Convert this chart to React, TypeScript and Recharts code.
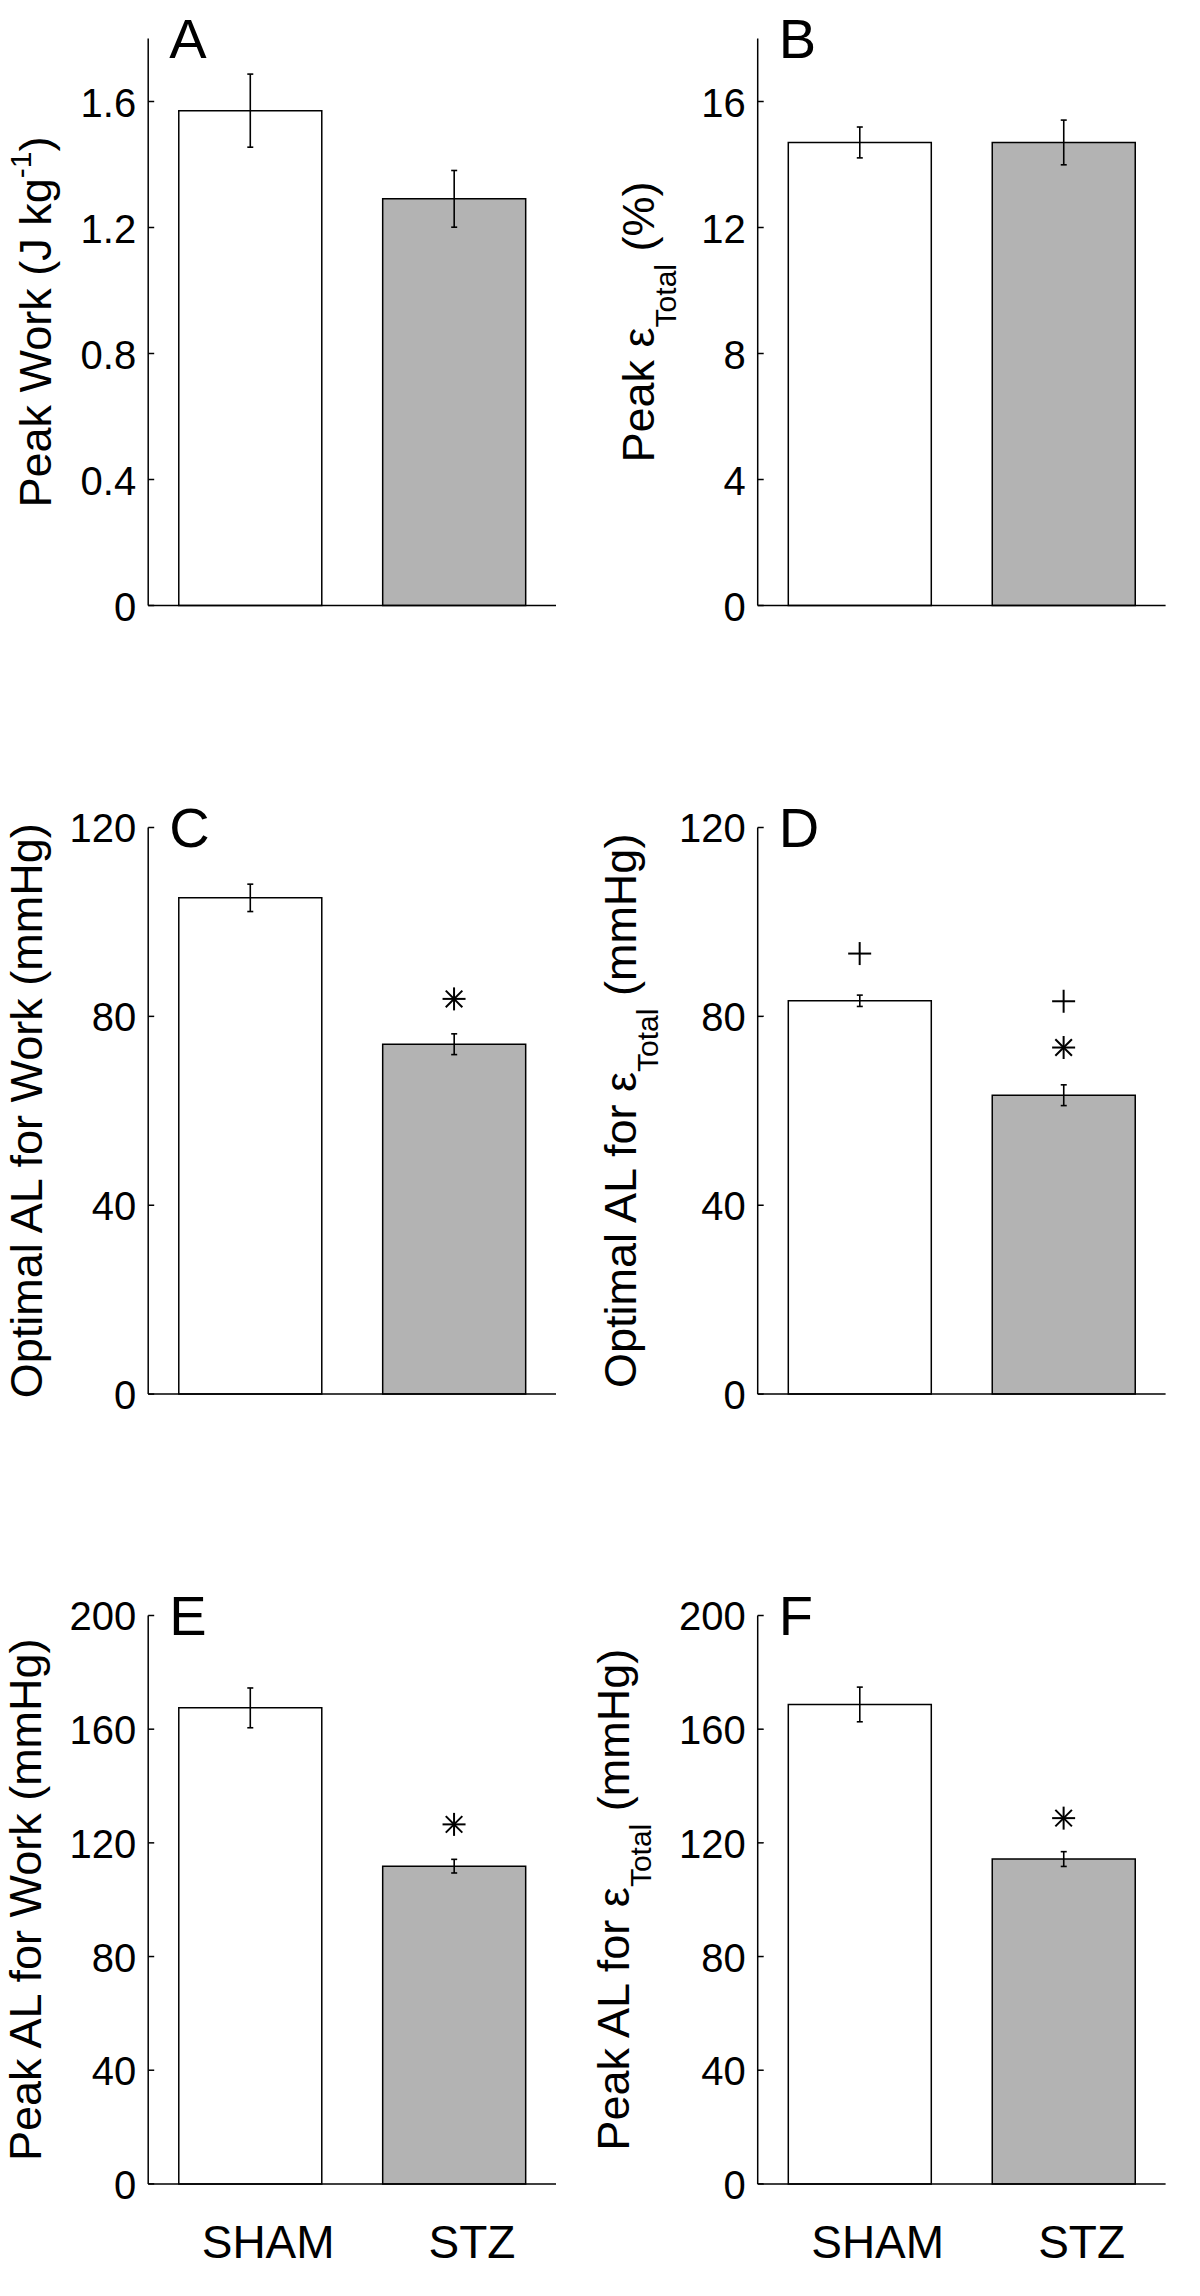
import React from 'react';
import { ComposedChart, Bar, Cell, ErrorBar, XAxis, YAxis, ReferenceDot } from 'recharts';

const groups = ['SHAM', 'STZ'];
const barFills = ['#ffffff', '#b3b3b3'];

// panel values (mean, error)
const peakWork = [1.571, 1.291];
const peakWorkErr = [0.116, 0.09];
const peakStrain = [14.7, 14.7];
const peakStrainErr = [0.49, 0.71];
const optWork = [105.1, 74.1];
const optWorkErr = [2.9, 2.2];
const optStrain = [83.3, 63.3];
const optStrainErr = [1.2, 2.2];
const peakALWork = [167.5, 111.8];
const peakALWorkErr = [7, 2.4];
const peakALStrain = [168.7, 114.3];
const peakALStrainErr = [6.1, 2.6];

const ticksA = [0, 0.4, 0.8, 1.2, 1.6];
const ticksB = [0, 4, 8, 12, 16];
const ticksCD = [0, 40, 80, 120];
const ticksEF = [0, 40, 80, 120, 160, 200];

// significance symbols above bars
const marksC = [{ group: 'STZ', y: 83.7, sym: '*' }];
const marksD = [
  { group: 'SHAM', y: 93.3, sym: '+' },
  { group: 'STZ', y: 83.2, sym: '+' },
  { group: 'STZ', y: 73.4, sym: '*' },
];
const marksE = [{ group: 'STZ', y: 126.5, sym: '*' }];
const marksF = [{ group: 'STZ', y: 128.7, sym: '*' }];

const FONT = '"Liberation Sans", Arial, Helvetica, sans-serif';

type Part = { t: string; sub?: boolean; sup?: boolean };
type Mark = { group: string; y: number; sym: string };

const titleA: Part[] = [{ t: 'Peak Work (J kg' }, { t: '-1', sup: true }, { t: ')' }];
const titleB: Part[] = [{ t: 'Peak ε' }, { t: 'Total', sub: true }, { t: ' (%)' }];
const titleC: Part[] = [{ t: 'Optimal AL for Work (mmHg)' }];
const titleD: Part[] = [{ t: 'Optimal AL for ε' }, { t: 'Total', sub: true }, { t: ' (mmHg)' }];
const titleE: Part[] = [{ t: 'Peak AL for Work (mmHg)' }];
const titleF: Part[] = [{ t: 'Peak AL for ε' }, { t: 'Total', sub: true }, { t: ' (mmHg)' }];

const Symbol = ({ cx, cy, sym }: { cx: number; cy: number; sym: string }) => {
  const r = 11.5;
  const d = r * 0.72;
  return (
    <g stroke="#000" strokeWidth={2}>
      <line x1={cx - r} x2={cx + r} y1={cy} y2={cy} />
      <line x1={cx} x2={cx} y1={cy - r} y2={cy + r} />
      {sym === '*' && <line x1={cx - d} x2={cx + d} y1={cy - d} y2={cy + d} />}
      {sym === '*' && <line x1={cx - d} x2={cx + d} y1={cy + d} y2={cy - d} />}
    </g>
  );
};

interface PanelProps {
  left: number;
  top: number;
  axisX: number;
  rightGap: number;
  plotH: number;
  values: number[];
  errs: number[];
  domain: [number, number];
  ticks: number[];
  marks: Mark[];
  letter: string;
  title: Part[];
  titleX: number;
  showX: boolean;
}

const PLOT_TOP = 38.5;
const W = 600;
const PAD = 60; // extra room on the left of the text overlay

const Panel = (p: PanelProps) => {
  const data = groups.map((g, i) => ({ group: g, value: p.values[i], err: p.errs[i] }));
  const H = PLOT_TOP + p.plotH + 100;
  const bottom = PLOT_TOP + p.plotH;
  const cy = PLOT_TOP + p.plotH / 2;

  const yTick = (t: any) => (
    <g>
      <line x1={p.axisX} x2={p.axisX + 6} y1={t.y} y2={t.y} stroke="#000" strokeWidth={1.5} />
      <text x={p.axisX - 12} y={t.y + 1} textAnchor="end" dominantBaseline="central" fontSize={40} fontFamily={FONT} fill="#000">
        {String(t.payload.value)}
      </text>
    </g>
  );
  const xTick = (t: any) => (
    <text x={t.x + 18} y={bottom + 74} textAnchor="middle" fontSize={46} fontFamily={FONT} fill="#000">
      {t.payload.value}
    </text>
  );

  return (
    <div style={{ position: 'absolute', left: p.left, top: p.top, width: W, height: H }}>
      <ComposedChart
        width={W}
        height={H}
        data={data}
        margin={{ top: PLOT_TOP, right: p.rightGap, bottom: 0, left: 0 }}
        barCategoryGap="15%"
      >
        <XAxis
          dataKey="group"
          type="category"
          height={100}
          axisLine={{ stroke: '#000', strokeWidth: 1.5 }}
          tickLine={false}
          tick={p.showX ? xTick : false}
        />
        <YAxis
          type="number"
          width={p.axisX}
          domain={p.domain}
          ticks={p.ticks}
          interval={0}
          axisLine={{ stroke: '#000', strokeWidth: 1.5 }}
          tickLine={false}
          tickSize={0}
          tick={yTick}
        />
        <Bar dataKey="value" stroke="#000" strokeWidth={1.5} isAnimationActive={false}>
          {data.map((d, i) => (
            <Cell key={`c-${i}`} fill={barFills[i]} />
          ))}
          <ErrorBar dataKey="err" direction="y" width={3} stroke="#000" strokeWidth={1.6} isAnimationActive={false} />
        </Bar>
        {p.marks.map((m, i) => (
          <ReferenceDot
            key={`m-${i}`}
            x={m.group}
            y={m.y}
            r={12}
            ifOverflow="visible"
            shape={(s: any) => <Symbol cx={s.cx} cy={s.cy} sym={m.sym} />}
          />
        ))}
      </ComposedChart>
      <svg
        width={W + PAD}
        height={H}
        style={{ position: 'absolute', left: -PAD, top: 0, pointerEvents: 'none', overflow: 'visible' }}
      >
        <g transform={`translate(${PAD},0)`}>
          <text x={p.axisX + 21} y={PLOT_TOP + 19} fontSize={56} fontFamily={FONT} fill="#000">
            {p.letter}
          </text>
          <text
            x={p.titleX}
            y={cy}
            transform={`rotate(-90, ${p.titleX}, ${cy})`}
            textAnchor="middle"
            fontSize={45}
            fontFamily={FONT}
            fill="#000"
            style={{ whiteSpace: 'pre' }}
          >
            {p.title.map((part, i) => {
              const prev = p.title[i - 1];
              let dy = 0;
              if (part.sub) dy = 22;
              else if (part.sup) dy = -20;
              if (prev && prev.sub) dy -= 22;
              if (prev && prev.sup) dy += 20;
              return (
                <tspan key={i} dy={dy} fontSize={part.sub || part.sup ? 30 : 45}>
                  {part.t}
                </tspan>
              );
            })}
          </text>
        </g>
      </svg>
    </div>
  );
};

export default function App() {
  const L = { left: 0, axisX: 148.2, rightGap: 44 };
  const R = { left: 600, axisX: 157.7, rightGap: 34.4 };
  return (
    <div style={{ position: 'absolute', left: 0, top: 0, width: 1200, height: 2296, background: '#fff' }}>
      <Panel {...L} top={0} plotH={567} values={peakWork} errs={peakWorkErr} domain={[0, 1.8]} ticks={ticksA}
        marks={[]} letter="A" title={titleA} titleX={51} showX={false} />
      <Panel {...R} top={0} plotH={567} values={peakStrain} errs={peakStrainErr} domain={[0, 18]} ticks={ticksB}
        marks={[]} letter="B" title={titleB} titleX={53.6} showX={false} />
      <Panel {...L} top={788.5} plotH={566.6} values={optWork} errs={optWorkErr} domain={[0, 120]} ticks={ticksCD}
        marks={marksC} letter="C" title={titleC} titleX={42} showX={false} />
      <Panel {...R} top={788.5} plotH={566.6} values={optStrain} errs={optStrainErr} domain={[0, 120]} ticks={ticksCD}
        marks={marksD} letter="D" title={titleD} titleX={36} showX={false} />
      <Panel {...L} top={1577} plotH={568.4} values={peakALWork} errs={peakALWorkErr} domain={[0, 200]} ticks={ticksEF}
        marks={marksE} letter="E" title={titleE} titleX={41} showX={true} />
      <Panel {...R} top={1577} plotH={568.4} values={peakALStrain} errs={peakALStrainErr} domain={[0, 200]} ticks={ticksEF}
        marks={marksF} letter="F" title={titleF} titleX={29.4} showX={true} />
    </div>
  );
}
